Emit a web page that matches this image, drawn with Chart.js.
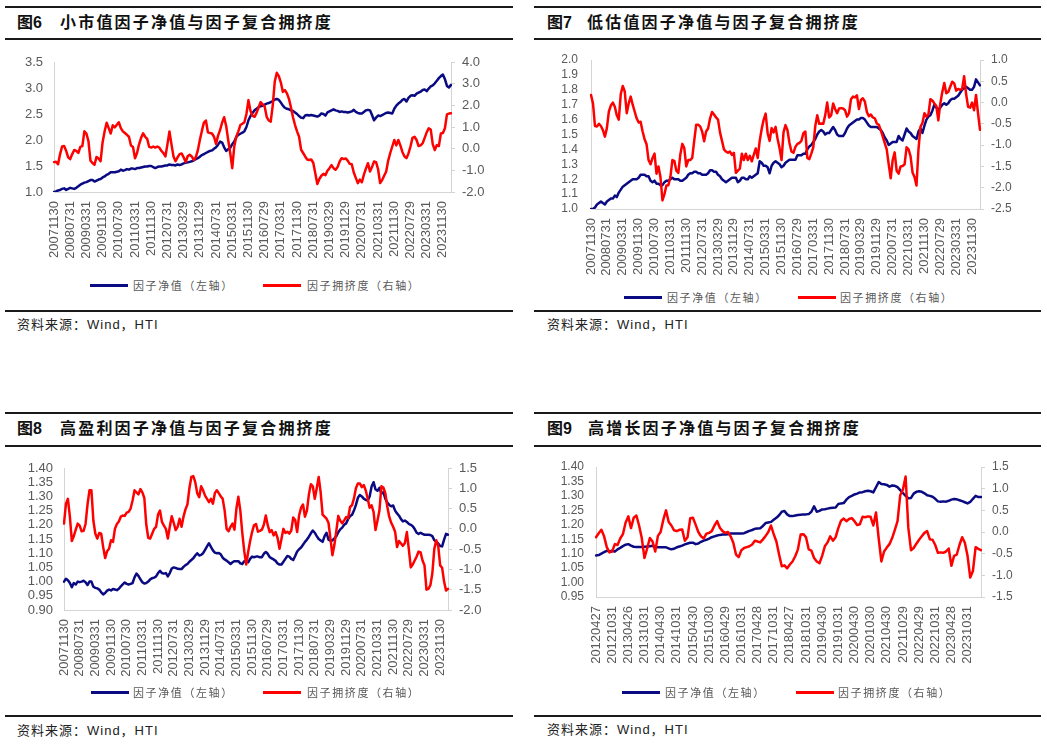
<!DOCTYPE html>
<html lang="zh-CN">
<head>
<meta charset="utf-8">
<title>因子净值与因子复合拥挤度</title>
<script src="https://cdn.jsdelivr.net/npm/chart.js@4/dist/chart.umd.min.js"></script>
<style>
  html, body { margin: 0; padding: 0; background: #fff; }
  body { width: 1047px; height: 744px; position: relative; overflow: hidden;
         font-family: "Liberation Sans", "Noto Sans CJK SC", sans-serif; }
  .rule { position: absolute; background: #1a1a1a; }
  .fig, .ttl { position: absolute; font-family: "Liberation Sans", "Noto Sans CJK SC", sans-serif;
         font-weight: bold; font-size: 16px; line-height: 20px; color: #111; white-space: nowrap; }
  .ttl { letter-spacing: 2.2px; }
  canvas { position: absolute; }
  .lg-line { position: absolute; width: 38px; height: 3px; }
  .lg-txt { position: absolute; font-family: "Noto Sans CJK SC", sans-serif; font-size: 11px;
         line-height: 14px; color: #595959; letter-spacing: 1.6px; white-space: nowrap; }
  .src { position: absolute; font-size: 13px; line-height: 16px; color: #222; letter-spacing: 1px; white-space: nowrap; }
</style>
</head>
<body>

<!-- 图6 -->
<div class="rule" style="left:5px;top:6px;width:508px;height:1.5px"></div>
<div class="fig" style="left:17px;top:13px">图6</div>
<div class="ttl" style="left:60px;top:13px">小市值因子净值与因子复合拥挤度</div>
<div class="rule" style="left:5px;top:38px;width:508px;height:2px"></div>
<canvas id="c6" width="492" height="234" style="left:4px;top:38px"></canvas>
<div class="lg-line" style="left:90px;top:284px;background:#0a0a82"></div>
<div class="lg-txt" style="left:133px;top:278px">因子净值（左轴）</div>
<div class="lg-line" style="left:263px;top:284px;background:#ff0000"></div>
<div class="lg-txt" style="left:307px;top:278px">因子拥挤度（右轴）</div>
<div class="rule" style="left:5px;top:310px;width:508px;height:2px"></div>
<div class="src" style="left:17px;top:317px">资料来源：Wind，HTI</div>

<!-- 图7 -->
<div class="rule" style="left:534px;top:6px;width:507px;height:1.5px"></div>
<div class="fig" style="left:547px;top:13px">图7</div>
<div class="ttl" style="left:587px;top:13px">低估值因子净值与因子复合拥挤度</div>
<div class="rule" style="left:534px;top:38px;width:507px;height:2px"></div>
<canvas id="c7" width="484" height="253" style="left:541px;top:36px"></canvas>
<div class="lg-line" style="left:624px;top:296px;background:#0a0a82"></div>
<div class="lg-txt" style="left:667px;top:290px">因子净值（左轴）</div>
<div class="lg-line" style="left:798px;top:296px;background:#ff0000"></div>
<div class="lg-txt" style="left:840px;top:290px">因子拥挤度（右轴）</div>
<div class="rule" style="left:534px;top:310px;width:507px;height:2px"></div>
<div class="src" style="left:547px;top:317px">资料来源：Wind，HTI</div>

<!-- 图8 -->
<div class="rule" style="left:5px;top:412px;width:508px;height:1.5px"></div>
<div class="fig" style="left:17px;top:419px">图8</div>
<div class="ttl" style="left:60px;top:419px">高盈利因子净值与因子复合拥挤度</div>
<div class="rule" style="left:5px;top:445px;width:508px;height:2px"></div>
<canvas id="c8" width="479" height="241" style="left:14px;top:444px"></canvas>
<div class="lg-line" style="left:91px;top:691px;background:#0a0a82"></div>
<div class="lg-txt" style="left:133px;top:685px">因子净值（左轴）</div>
<div class="lg-line" style="left:263px;top:691px;background:#ff0000"></div>
<div class="lg-txt" style="left:307px;top:685px">因子拥挤度（右轴）</div>
<div class="rule" style="left:5px;top:715px;width:508px;height:2px"></div>
<div class="src" style="left:17px;top:723px">资料来源：Wind，HTI</div>

<!-- 图9 -->
<div class="rule" style="left:534px;top:412px;width:507px;height:1.5px"></div>
<div class="fig" style="left:547px;top:419px">图9</div>
<div class="ttl" style="left:588px;top:419px">高增长因子净值与因子复合拥挤度</div>
<div class="rule" style="left:534px;top:445px;width:507px;height:2px"></div>
<canvas id="c9" width="480" height="229" style="left:546px;top:443px"></canvas>
<div class="lg-line" style="left:622px;top:691px;background:#0a0a82"></div>
<div class="lg-txt" style="left:665px;top:685px">因子净值（左轴）</div>
<div class="lg-line" style="left:796px;top:691px;background:#ff0000"></div>
<div class="lg-txt" style="left:838px;top:685px">因子拥挤度（右轴）</div>
<div class="rule" style="left:534px;top:715px;width:507px;height:2px"></div>
<div class="src" style="left:547px;top:722px">资料来源：Wind，HTI</div>

<script>
// 月度数据：图6~图8 为 2007-11 至 2024-03，图9 为 2012-04 至 2024-03
const TICKS_2007 = ['20071130','20080731','20090331','20091130','20100730','20110331','20111130',
  '20120731','20130329','20131129','20140731','20150331','20151130','20160729','20170331','20171130',
  '20180731','20190329','20191129','20200731','20210331','20211130','20220729','20230331','20231130'];
const TICKS_2012 = ['20120427','20121031','20130426','20131031','20140430','20141031','20150430',
  '20151030','20160429','20161031','20170428','20171031','20180427','20181031','20190430','20191031',
  '20200430','20201030','20210430','20211029','20220429','20221031','20230428','20231031'];

// 图6 小市值
const SMALL_NAV = [
  1.00,1.01,1.03,1.04,1.06,1.07,1.04,1.06,1.08,1.07,
  1.06,1.08,1.11,1.14,1.16,1.18,1.19,1.21,1.23,1.23,
  1.20,1.22,1.24,1.25,1.28,1.30,1.33,1.35,1.38,1.38,
  1.38,1.39,1.40,1.43,1.41,1.42,1.44,1.43,1.45,1.45,
  1.44,1.46,1.46,1.47,1.48,1.49,1.49,1.50,1.50,1.48,
  1.46,1.48,1.49,1.49,1.50,1.51,1.51,1.53,1.52,1.52,
  1.51,1.53,1.52,1.53,1.55,1.56,1.57,1.58,1.59,1.61,
  1.63,1.65,1.68,1.71,1.73,1.75,1.77,1.79,1.80,1.83,
  1.86,1.91,1.97,1.95,1.86,1.79,1.82,1.85,1.92,1.97,
  2.06,2.10,2.12,2.14,2.17,2.25,2.38,2.46,2.52,2.57,
  2.60,2.63,2.65,2.66,2.68,2.70,2.71,2.73,2.75,2.78,
  2.79,2.77,2.72,2.66,2.62,2.60,2.59,2.57,2.56,2.53,
  2.50,2.46,2.43,2.42,2.47,2.48,2.47,2.48,2.47,2.46,
  2.45,2.47,2.51,2.50,2.47,2.53,2.55,2.57,2.59,2.57,
  2.56,2.54,2.55,2.54,2.54,2.53,2.54,2.55,2.58,2.54,
  2.52,2.51,2.51,2.54,2.57,2.58,2.57,2.48,2.38,2.43,
  2.47,2.46,2.48,2.50,2.52,2.53,2.52,2.51,2.60,2.66,
  2.70,2.73,2.77,2.79,2.74,2.81,2.85,2.86,2.85,2.89,
  2.91,2.93,2.96,2.97,2.94,2.99,3.03,3.05,3.09,3.14,
  3.19,3.23,3.26,3.17,3.04,3.01,3.06];
const SMALL_CROWD = [
  -0.62,-0.60,-0.72,-0.25,0.10,0.12,-0.10,-0.40,-0.48,-0.25,
  -0.06,-0.10,-0.20,0.08,0.12,0.80,0.70,0.35,-0.55,-0.66,
  -0.74,-0.38,-0.45,-0.58,0.30,0.80,1.20,0.95,0.70,1.08,
  0.98,1.10,1.22,0.95,0.80,0.72,0.64,0.55,0.15,0.08,
  -0.44,-0.20,0.20,0.50,0.71,0.55,0.45,0.08,0.05,0.10,
  0.05,0.10,0.05,-0.10,-0.20,-0.36,0.20,0.79,0.20,-0.36,
  -0.58,-0.40,-0.25,-0.22,-0.40,-0.62,-0.35,-0.28,-0.36,-0.52,
  -0.40,-0.08,0.40,0.82,1.20,1.30,0.75,0.72,0.70,0.55,
  0.22,0.60,0.86,1.20,1.45,1.05,0.40,-0.20,-0.90,0.10,
  0.55,0.80,1.09,1.15,1.22,1.60,2.24,1.75,1.52,1.47,
  1.65,1.90,2.15,2.05,1.95,1.47,1.30,1.25,2.00,3.10,
  3.50,3.35,3.05,2.62,2.70,2.55,2.30,1.90,1.45,1.09,
  0.80,0.55,-0.05,-0.20,-0.36,-0.50,-0.52,-0.50,-0.65,-1.13,
  -1.63,-1.40,-1.25,-1.16,-1.22,-1.02,-0.90,-0.76,-0.90,-0.97,
  -0.85,-0.60,-0.44,-0.48,-0.45,-0.55,-0.70,-0.72,-1.10,-1.35,
  -1.59,-1.43,-1.55,-1.20,-0.92,-0.67,-1.05,-0.85,-0.59,-0.62,
  -0.95,-1.59,-1.45,-1.25,-1.05,-0.55,-0.20,0.10,0.40,0.15,
  0.40,0.15,-0.15,-0.35,-0.44,-0.22,0.10,0.50,0.55,0.40,
  0.12,0.15,0.25,0.50,0.75,0.94,0.88,0.20,-0.06,0.17,
  0.12,0.70,0.72,0.94,1.58,1.62,1.63];

// 图7 低估值
const LOWVAL_NAV = [
  1.00,1.00,1.01,1.03,1.04,1.05,1.04,1.03,1.05,1.06,
  1.07,1.07,1.09,1.08,1.11,1.13,1.15,1.16,1.17,1.18,
  1.19,1.20,1.20,1.20,1.21,1.23,1.23,1.23,1.22,1.22,
  1.19,1.18,1.19,1.17,1.17,1.16,1.16,1.18,1.19,1.19,
  1.20,1.21,1.20,1.20,1.20,1.19,1.19,1.20,1.21,1.23,
  1.24,1.24,1.25,1.25,1.24,1.24,1.23,1.23,1.23,1.24,
  1.26,1.26,1.25,1.25,1.23,1.22,1.20,1.19,1.18,1.19,
  1.20,1.21,1.21,1.21,1.18,1.19,1.21,1.21,1.20,1.20,
  1.22,1.21,1.22,1.23,1.24,1.32,1.31,1.29,1.29,1.28,
  1.24,1.29,1.31,1.32,1.31,1.30,1.28,1.29,1.31,1.32,
  1.33,1.33,1.33,1.33,1.36,1.36,1.36,1.37,1.37,1.40,
  1.42,1.43,1.45,1.47,1.50,1.52,1.53,1.52,1.50,1.51,
  1.51,1.53,1.55,1.53,1.50,1.49,1.49,1.49,1.51,1.54,
  1.56,1.57,1.58,1.59,1.60,1.60,1.61,1.61,1.60,1.58,
  1.56,1.55,1.55,1.55,1.55,1.54,1.53,1.51,1.48,1.46,
  1.43,1.44,1.45,1.45,1.45,1.49,1.47,1.46,1.50,1.54,
  1.52,1.51,1.49,1.48,1.47,1.52,1.54,1.51,1.56,1.60,
  1.62,1.63,1.66,1.70,1.68,1.67,1.68,1.70,1.71,1.70,
  1.71,1.73,1.74,1.74,1.75,1.76,1.78,1.80,1.81,1.82,
  1.81,1.80,1.80,1.82,1.87,1.85,1.83];
const LOWVAL_CROWD = [
  0.18,-0.02,-0.55,-0.56,-0.50,-0.55,-0.65,-0.80,-0.60,-0.21,
  -0.07,0.00,-0.10,-0.30,-0.40,0.20,0.39,0.26,-0.25,-0.02,
  0.14,-0.05,-0.21,-0.37,-0.47,-0.45,-0.68,-0.86,-0.98,-1.35,
  -1.45,-1.30,-1.20,-1.67,-1.50,-1.75,-2.30,-2.15,-1.95,-1.94,
  -1.75,-1.35,-1.37,-1.60,-1.65,-1.22,-0.97,-1.07,-1.50,-1.35,
  -1.35,-1.30,-0.90,-0.52,-0.52,-0.56,-0.68,-0.91,-0.68,-0.61,
  -0.37,-0.22,-0.28,-0.35,-0.40,-0.70,-0.90,-1.10,-1.15,-1.18,
  -1.15,-1.23,-1.18,-1.65,-1.60,-1.55,-1.20,-1.35,-1.20,-1.35,
  -1.25,-1.38,-1.23,-1.08,-1.30,-0.90,-0.62,-0.40,-0.26,-0.72,
  -0.90,-0.60,-0.70,-0.57,-0.85,-1.07,-1.35,-0.70,-0.53,-0.65,
  -0.95,-1.15,-1.18,-1.04,-0.97,-0.95,-0.90,-0.72,-0.68,-1.30,
  -1.33,-1.20,-1.05,-0.55,-0.30,-0.50,-0.49,-0.50,-0.30,0.00,
  -0.35,-0.30,-0.02,-0.15,-0.25,-0.14,-0.13,-0.14,-0.18,-0.33,
  -0.25,0.08,0.14,0.12,0.17,-0.15,0.06,0.10,0.02,-0.22,
  -0.32,-0.28,-0.35,-0.37,-0.49,-0.52,-0.65,-0.80,-0.95,-1.10,
  -1.45,-1.78,-1.35,-1.17,-1.60,-1.67,-1.50,-1.49,-1.45,-1.05,
  -1.10,-1.26,-1.64,-1.75,-1.95,-1.10,-0.57,-0.48,-0.25,-0.33,
  -0.28,0.08,0.05,-0.02,-0.08,-0.42,-0.02,0.25,0.46,0.22,
  0.25,0.37,0.49,0.45,0.28,0.32,0.30,0.32,0.62,0.20,
  -0.10,-0.12,0.00,-0.18,0.18,-0.25,-0.64];

// 图8 高盈利
const HIGHPROF_NAV = [
  1.000,1.010,1.005,0.995,0.980,0.995,0.990,1.000,0.998,1.000,
  1.003,0.998,0.988,1.000,1.000,0.982,0.978,0.976,0.972,0.962,
  0.955,0.960,0.968,0.972,0.969,0.974,0.972,0.970,0.975,0.983,
  0.990,0.997,0.992,0.990,0.992,0.995,1.015,1.028,1.020,1.008,
  0.998,0.993,0.995,1.000,1.008,1.012,1.014,1.018,1.030,1.038,
  1.030,1.028,1.030,1.018,1.030,1.046,1.050,1.048,1.045,1.044,
  1.044,1.052,1.058,1.062,1.070,1.076,1.082,1.092,1.100,1.092,
  1.094,1.100,1.112,1.124,1.135,1.122,1.110,1.102,1.100,1.101,
  1.096,1.084,1.078,1.074,1.068,1.062,1.068,1.072,1.072,1.072,
  1.064,1.062,1.072,1.070,1.068,1.080,1.088,1.086,1.088,1.088,
  1.086,1.086,1.098,1.104,1.098,1.086,1.082,1.078,1.073,1.064,
  1.060,1.060,1.070,1.080,1.090,1.088,1.080,1.076,1.090,1.106,
  1.114,1.120,1.130,1.140,1.148,1.158,1.170,1.180,1.172,1.160,
  1.150,1.145,1.140,1.160,1.172,1.148,1.144,1.145,1.152,1.160,
  1.174,1.184,1.190,1.200,1.205,1.220,1.230,1.235,1.250,1.270,
  1.295,1.305,1.300,1.292,1.288,1.285,1.300,1.335,1.350,1.325,
  1.320,1.330,1.310,1.315,1.292,1.278,1.270,1.265,1.268,1.250,
  1.240,1.232,1.220,1.212,1.215,1.210,1.203,1.200,1.195,1.185,
  1.172,1.168,1.172,1.168,1.165,1.165,1.165,1.164,1.160,1.146,
  1.140,1.134,1.125,1.124,1.148,1.168,1.165];
const HIGHPROF_CROWD = [
  0.13,0.62,0.74,0.30,-0.30,-0.18,-0.02,0.13,0.08,-0.06,
  -0.05,0.12,0.60,0.95,0.95,0.20,-0.12,-0.24,-0.10,-0.12,
  -0.45,-0.72,-0.55,-0.49,-0.28,-0.32,0.00,0.12,0.18,0.30,
  0.33,0.32,0.40,0.42,0.50,0.70,0.95,0.90,0.85,0.98,
  0.90,0.76,0.10,-0.22,-0.24,-0.12,0.00,0.05,0.35,0.45,
  0.17,0.08,0.00,-0.24,0.05,0.31,0.15,-0.03,0.05,0.25,
  0.05,0.30,0.48,0.60,1.00,1.28,1.30,1.15,0.88,0.78,
  1.05,0.95,0.82,0.74,0.66,0.74,0.62,0.88,0.95,0.88,
  0.80,0.74,0.45,0.00,-0.06,0.05,0.13,-0.02,0.50,0.79,
  0.45,-0.10,-0.55,-0.88,-0.57,-0.30,-0.08,0.09,0.12,-0.07,
  -0.05,-0.02,0.10,0.33,0.09,-0.08,-0.03,-0.16,-0.08,-0.22,
  -0.49,-0.25,0.00,-0.10,-0.07,-0.12,-0.04,0.28,0.22,-0.08,
  0.33,0.52,0.60,0.30,0.45,0.85,1.10,1.05,0.74,1.00,
  1.28,0.90,0.35,0.30,0.25,0.15,-0.24,-0.65,-0.40,-0.05,
  0.32,0.20,0.14,0.21,0.29,0.26,0.54,0.58,0.75,1.00,
  1.12,1.12,1.03,1.08,0.95,0.75,0.52,0.58,0.42,-0.03,
  0.20,0.45,1.05,1.02,0.88,0.55,0.30,0.15,0.05,-0.07,
  -0.45,-0.30,-0.36,-0.42,-0.35,-0.08,-0.50,-0.95,-0.88,-0.78,
  -0.68,-0.56,-0.58,-0.78,-0.90,-1.50,-1.48,-1.39,-1.10,-0.50,
  -0.28,-0.42,-0.90,-0.96,-1.30,-1.52,-1.48];

// 图9 高增长
const HIGHGROW_NAV = [
  1.094,1.095,1.100,1.105,1.110,1.108,1.110,1.107,1.115,1.120,
  1.126,1.131,1.133,1.128,1.124,1.123,1.123,1.123,1.124,1.125,
  1.126,1.127,1.122,1.122,1.122,1.122,1.122,1.118,1.115,1.117,
  1.122,1.125,1.128,1.132,1.135,1.138,1.138,1.133,1.135,1.141,
  1.145,1.148,1.152,1.157,1.160,1.163,1.165,1.166,1.166,1.167,
  1.170,1.170,1.170,1.170,1.170,1.171,1.175,1.179,1.182,1.186,
  1.187,1.188,1.196,1.206,1.208,1.210,1.217,1.224,1.233,1.245,
  1.248,1.236,1.230,1.230,1.232,1.234,1.235,1.236,1.236,1.237,
  1.245,1.264,1.245,1.248,1.253,1.254,1.256,1.258,1.259,1.260,
  1.272,1.274,1.275,1.287,1.296,1.300,1.305,1.308,1.312,1.313,
  1.316,1.318,1.316,1.312,1.330,1.348,1.341,1.340,1.338,1.332,
  1.336,1.335,1.330,1.320,1.310,1.300,1.292,1.293,1.308,1.314,
  1.316,1.314,1.309,1.302,1.300,1.297,1.290,1.281,1.280,1.281,
  1.280,1.283,1.287,1.289,1.288,1.285,1.282,1.278,1.274,1.279,
  1.290,1.300,1.296,1.296];
const HIGHGROW_CROWD = [
  -0.12,-0.03,0.05,-0.10,-0.35,-0.47,-0.45,-0.28,-0.30,-0.15,
  -0.05,0.22,0.36,0.09,0.33,0.38,0.15,-0.14,-0.60,-0.38,
  -0.14,-0.22,-0.45,-0.09,0.00,0.28,0.50,0.23,0.15,0.04,
  0.02,0.05,0.06,-0.20,-0.12,0.32,0.33,0.17,0.00,-0.10,
  -0.15,-0.04,-0.02,0.02,0.15,0.25,0.10,0.02,-0.02,0.00,
  -0.10,-0.25,-0.52,-0.58,-0.42,-0.37,-0.35,-0.33,-0.29,-0.20,
  -0.22,-0.24,-0.17,-0.09,0.00,0.15,-0.05,-0.22,-0.52,-0.79,
  -0.77,-0.84,-0.75,-0.68,-0.56,-0.40,-0.06,-0.05,-0.12,-0.40,
  -0.43,-0.60,-0.68,-0.72,-0.55,-0.33,-0.24,-0.10,-0.20,-0.12,
  0.09,0.26,0.31,0.25,0.30,0.32,0.25,0.16,0.18,0.35,
  0.34,0.36,0.35,0.15,0.45,-0.15,-0.68,-0.45,-0.36,-0.28,
  -0.14,0.05,0.25,0.85,0.98,1.28,0.10,-0.42,-0.37,-0.27,
  -0.18,-0.10,-0.02,0.02,-0.17,-0.18,-0.30,-0.48,-0.47,-0.48,
  -0.45,-0.38,-0.78,-0.55,-0.52,-0.30,-0.12,-0.25,-0.55,-1.05,
  -0.90,-0.35,-0.39,-0.42];

const NAVY = '#0a0a82';
const RED = '#ff0000';
const AXIS = '#d4d4d4';
const TICK = '#595959';

// 两条线、左右双轴；轴宽和上边距固定，让绘图区落在原图的位置
// (上边距要大于 y 轴刻度字半高 + padding，否则 Chart.js 会自己往下推)
function drawPanel(id, o) {
  const labels = o.nav.map((_, i) => (i % o.every === 0 ? o.ticks[i / o.every] : ''));
  const font = { family: 'Liberation Sans', size: o.fs };
  const line = (data, color, axis) => ({
    data, yAxisID: axis, borderColor: color, backgroundColor: color,
    borderWidth: 2.5, pointRadius: 0, tension: 0,
    borderJoinStyle: 'round', borderCapStyle: 'round',
  });
  return new Chart(document.getElementById(id), {
    type: 'line',
    data: {
      labels,
      // 拥挤度放在前面，画在净值线之上
      datasets: [line(o.crowd, RED, 'y1'), line(o.nav, NAVY, 'y')],
    },
    options: {
      responsive: false,
      animation: false,
      devicePixelRatio: 1,
      layout: { padding: { top: 24, left: 0, right: 0, bottom: 0 } },
      plugins: { legend: { display: false }, tooltip: { enabled: false } },
      scales: {
        x: {
          grid: { display: false, drawTicks: false },
          border: { display: true, color: AXIS },
          ticks: { autoSkip: false, minRotation: 90, maxRotation: 90, padding: 9,
                   color: TICK, font: { family: 'Liberation Sans', size: 13 } },
          afterFit: (s) => { s.height = o.xh; },
        },
        y: {
          position: 'left', min: o.left[0], max: o.left[1],
          grid: { display: false, drawTicks: false, tickLength: 0 },
          border: { display: true, color: AXIS },
          ticks: { stepSize: o.left[2], autoSkip: false, padding: o.lpad, color: TICK, font,
                   callback: (v) => Number(v).toFixed(o.left[3]) },
          afterFit: (s) => { s.width = 50; },
        },
        y1: {
          position: 'right', min: o.right[0], max: o.right[1],
          grid: { display: true, drawOnChartArea: false, drawTicks: true, tickLength: 4, color: AXIS },
          border: { display: true, color: AXIS },
          ticks: { stepSize: o.right[2], autoSkip: false, padding: 7, color: TICK, font,
                   callback: (v) => Number(v).toFixed(1) },
          afterFit: (s) => { s.width = 45; },
        },
      },
    },
  });
}

drawPanel('c6', { nav: SMALL_NAV, crowd: SMALL_CROWD, ticks: TICKS_2007, every: 8, xh: 80, fs: 13, lpad: 11,
  left: [1.0, 3.5, 0.5, 1], right: [-2, 4, 1] });
drawPanel('c7', { nav: LOWVAL_NAV, crowd: LOWVAL_CROWD, ticks: TICKS_2007, every: 8, xh: 80, fs: 12, lpad: 13,
  left: [1.0, 2.0, 0.1, 1], right: [-2.5, 1.0, 0.5] });
drawPanel('c8', { nav: HIGHPROF_NAV, crowd: HIGHPROF_CROWD, ticks: TICKS_2007, every: 8, xh: 75, fs: 13, lpad: 11,
  left: [0.90, 1.40, 0.05, 2], right: [-2.0, 1.5, 0.5] });
drawPanel('c9', { nav: HIGHGROW_NAV, crowd: HIGHGROW_CROWD, ticks: TICKS_2012, every: 6, xh: 75, fs: 12, lpad: 12,
  left: [0.95, 1.40, 0.05, 2], right: [-1.5, 1.5, 0.5] });
</script>
</body>
</html>
